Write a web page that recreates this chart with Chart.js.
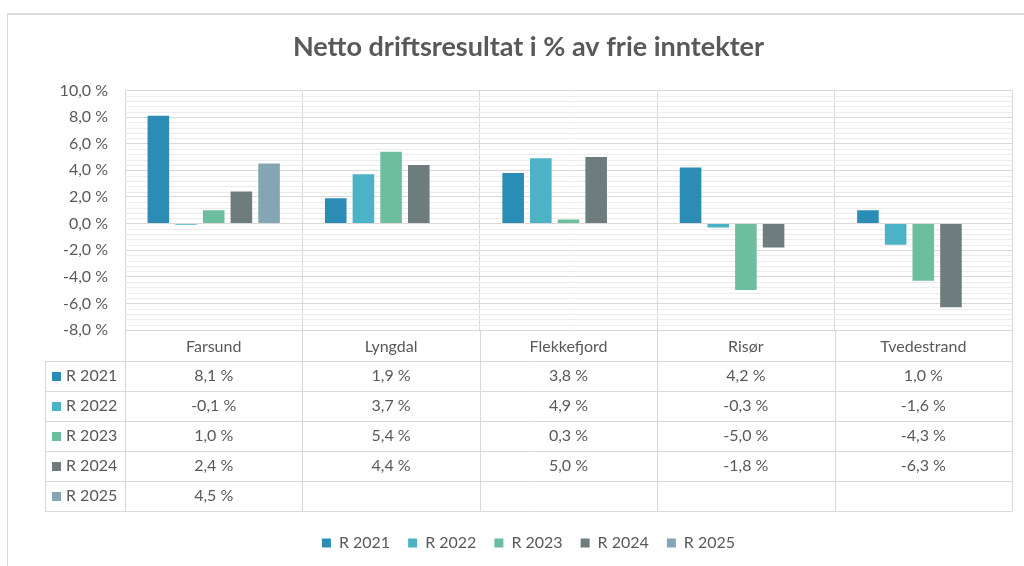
<!DOCTYPE html>
<html>
<head>
<meta charset="utf-8">
<script src="https://cdn.jsdelivr.net/npm/chart.js@4.4.1/dist/chart.umd.min.js"></script>
<style>
  html, body { margin: 0; padding: 0; background: #fff; }
  #wrap { position: relative; width: 1024px; height: 566px; overflow: hidden; }
  #frame { position: absolute; left: 7px; top: 13px; right: -2px; bottom: -2px;
           border-top: 2px solid #dcdcdc; border-left: 1px solid #dcdcdc; }
  canvas { position: absolute; left: 0; top: 0; }
</style>
</head>
<body>
<div id="wrap">
  <div id="frame"></div>
  <canvas id="chart" width="1024" height="566"></canvas>
</div>
<script>
// data
const kommuner = ['Farsund', 'Lyngdal', 'Flekkefjord', 'Risør', 'Tvedestrand'];
const r2021 = [8.1, 1.9, 3.8, 4.2, 1.0];
const r2022 = [-0.1, 3.7, 4.9, -0.3, -1.6];
const r2023 = [1.0, 5.4, 0.3, -5.0, -4.3];
const r2024 = [2.4, 4.4, 5.0, -1.8, -6.3];
const r2025 = [4.5, null, null, null, null];
const seriesNames = ['R 2021', 'R 2022', 'R 2023', 'R 2024', 'R 2025'];
const yMin = -8, yMax = 10, yStep = 2, minorStep = 0.4;

const colors = ['#2b8cb5', '#4cb2c6', '#6bbe9e', '#6e7c7e', '#84a6b4'];
const txt = '#595959';
const font = 'Lato';

const fmt = v => v.toFixed(1).replace('.', ',') + ' %';

const allSeries = [r2021, r2022, r2023, r2024, r2025];

// minor gridlines (every 0.4 %)
const minorGrid = {
  id: 'minorGrid',
  beforeDatasetsDraw(chart) {
    const { ctx, chartArea: a, scales: { y } } = chart;
    ctx.save();
    ctx.strokeStyle = '#ececec';
    ctx.lineWidth = 1;
    for (let v = yMin; v <= yMax + 1e-9; v += minorStep) {
      const r = Math.round(v * 10) / 10;
      if (Math.abs(r % yStep) < 1e-6) continue;
      const py = Math.round(y.getPixelForValue(r)) + 0.5;
      ctx.beginPath();
      ctx.moveTo(a.left, py);
      ctx.lineTo(a.right, py);
      ctx.stroke();
    }
    ctx.restore();
  }
};

// data table under the plot
const dataTable = {
  id: 'dataTable',
  afterDraw(chart) {
    const { ctx, chartArea: a, scales: { x, y } } = chart;
    const headH = 31, rowH = 30;
    const top = a.bottom + headH;
    const bottom = top + rowH * allSeries.length;
    const left = y.left;
    ctx.save();
    ctx.strokeStyle = '#d9d9d9';
    ctx.lineWidth = 1;
    // horizontal lines
    for (let i = 0; i <= allSeries.length; i++) {
      const py = Math.round(top + i * rowH) + 0.5;
      ctx.beginPath();
      ctx.moveTo(left, py);
      ctx.lineTo(a.right, py);
      ctx.stroke();
    }
    // left edge
    ctx.beginPath();
    ctx.moveTo(left + 0.5, top);
    ctx.lineTo(left + 0.5, bottom);
    ctx.stroke();
    // column borders
    for (let i = 0; i <= kommuner.length; i++) {
      const px = Math.round(x.getPixelForValue(i - 0.5)) + 0.5;
      ctx.beginPath();
      ctx.moveTo(px, a.bottom);
      ctx.lineTo(px, bottom);
      ctx.stroke();
    }
    // row labels + values
    ctx.font = '16px ' + font;
    ctx.fillStyle = txt;
    ctx.textBaseline = 'middle';
    allSeries.forEach((s, r) => {
      const cy = top + r * rowH + rowH / 2;
      ctx.fillStyle = colors[r];
      ctx.fillRect(left + 7, Math.round(cy - 4), 9, 9);
      ctx.fillStyle = txt;
      ctx.textAlign = 'left';
      ctx.fillText(seriesNames[r], left + 21, cy);
      ctx.textAlign = 'center';
      s.forEach((v, c) => {
        if (v === null) return;
        ctx.fillText(fmt(v), x.getPixelForValue(c), cy);
      });
    });
    ctx.restore();
  }
};

new Chart(document.getElementById('chart'), {
  type: 'bar',
  data: {
    labels: kommuner,
    datasets: allSeries.map((s, i) => ({
      label: seriesNames[i],
      data: s,
      backgroundColor: colors[i],
      categoryPercentage: 0.78,
      barPercentage: 0.78
    }))
  },
  options: {
    responsive: false,
    animation: false,
    devicePixelRatio: 1,
    layout: { padding: { left: 45, right: 12, top: 0, bottom: 5 } },
    plugins: {
      title: {
        display: true,
        text: 'Netto driftsresultat i % av frie inntekter',
        color: txt,
        font: { family: font, size: 27, weight: 'bold' },
        padding: { top: 31, bottom: 27 }
      },
      legend: {
        position: 'bottom',
        labels: {
          color: txt,
          boxWidth: 9,
          boxHeight: 9,
          padding: 18,
          font: { family: font, size: 16 }
        }
      },
      tooltip: { enabled: false }
    },
    scales: {
      x: {
        grid: { color: '#d9d9d9', drawTicks: false },
        border: { display: false },
        ticks: { color: txt, font: { family: font, size: 16 }, padding: 7 },
        afterFit: s => { s.height = 187; }
      },
      y: {
        min: yMin,
        max: yMax,
        grid: { color: '#d9d9d9', drawTicks: false },
        border: { display: false },
        ticks: {
          stepSize: yStep,
          color: txt,
          padding: 17,
          font: { family: font, size: 16 },
          callback: v => fmt(v)
        },
        afterFit: s => { s.width = 80; }
      }
    }
  },
  plugins: [minorGrid, dataTable]
});
</script>
</body>
</html>
